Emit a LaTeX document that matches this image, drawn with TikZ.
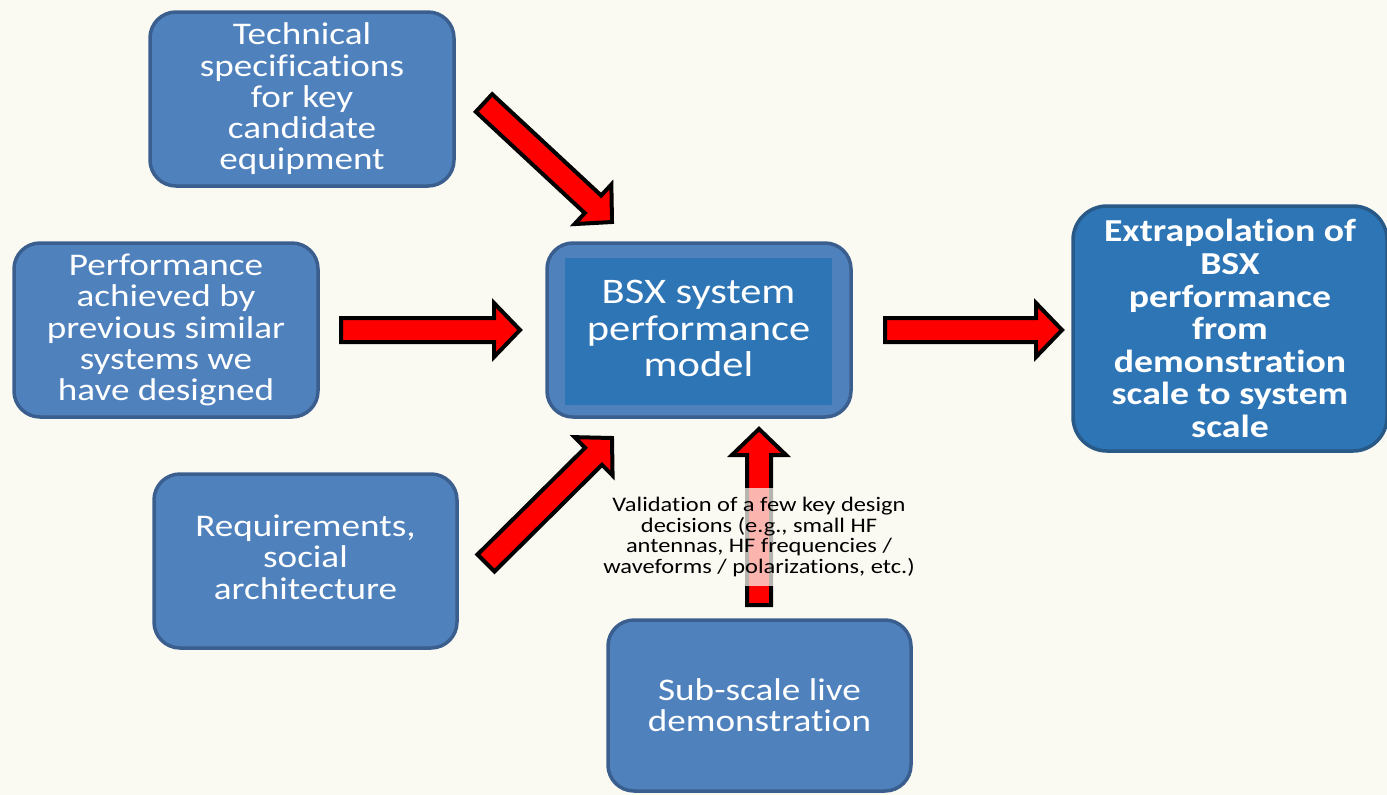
\documentclass[tikz,border=0pt]{standalone}
\usepackage{fontspec}
\setmainfont{Carlito}[FakeStretch=1.18, Ligatures=NoCommon]
\usetikzlibrary{calc}

\definecolor{bgcream}{HTML}{FBFAF2}
\definecolor{boxfill}{HTML}{4F81BD}
\definecolor{boxline}{HTML}{3A5F8E}
\definecolor{modelfill}{HTML}{2E75B6}
\definecolor{extraline}{HTML}{285987}
\definecolor{arrowred}{HTML}{FF0000}

% block arrow dimensions (half shaft width, half head width, head length)
\newcommand{\arrshaft}{12pt}
\newcommand{\arrwing}{27pt}
\newcommand{\arrhead}{26pt}

% fat red arrow from tail coordinate #1 to tip coordinate #2
\newcommand{\blockarrow}[2]{%
  \coordinate (#2-base) at ($(#2)!\arrhead!(#1)$);
  \draw[redblock]
    ($(#1)!\arrshaft!90:(#2)$) --
    ($(#2-base)!\arrshaft!90:(#2)$) --
    ($(#2-base)!\arrwing!90:(#2)$) --
    (#2) --
    ($(#2-base)!\arrwing!-90:(#2)$) --
    ($(#2-base)!\arrshaft!-90:(#2)$) --
    ($(#1)!\arrshaft!-90:(#2)$) -- cycle;
}

\tikzset{
  inbox/.style={draw=boxline, line width=3.5pt, fill=boxfill,
    rounded corners=26pt, text=white, align=center, inner sep=0pt,
    font=\fontsize{31.5}{31.3}\selectfont},
  boxtext/.style={text=white, align=center, inner sep=0pt,
    font=\fontsize{31.5}{31.3}\selectfont},
  modelinner/.style={fill=modelfill, draw=none, inner sep=0pt},
  modeltextstyle/.style={text=white, align=center, inner sep=0pt,
    font=\fontsize{36}{36.5}\selectfont},
  outbox/.style={draw=extraline, line width=3.5pt, fill=modelfill,
    rounded corners=34pt, text=white, align=center, inner sep=0pt,
    font=\bfseries\fontsize{32}{32.6}\selectfont},
  redblock/.style={draw=black, line width=4pt, fill=arrowred, line join=miter},
  notelabel/.style={fill=bgcream, fill opacity=0.72, text opacity=1,
    align=center, inner xsep=3pt, inner ysep=9pt,
    font=\fontsize{20.7}{20.7}\selectfont}
}

\begin{document}
\begin{tikzpicture}[x=1pt, y=-1pt]
  % page and background
  \fill[bgcream] (0,0) rectangle (1387,795);
  \useasboundingbox (0,0) rectangle (1387,795);
  \clip (0,0) rectangle (1387,795);

  % input boxes
  \node[inbox, minimum width=304pt, minimum height=174pt] (tech) at (302,99)
    {Technical\\specifications\\for key\\candidate\\equipment};
  \node[inbox, minimum width=304pt, minimum height=174pt] (perf) at (166,330)
    {Performance\\achieved by\\previous similar\\systems we\\have designed};
  \node[inbox, minimum width=303pt, minimum height=174pt] (req) at (305.5,561) {};
  \node[boxtext] (reqtext) at ($(req.center)+(0,-4)$)
    {Requirements,\\social\\architecture};
  \node[inbox, minimum width=303pt, minimum height=171pt] (demo) at (759.5,705.5)
    {Sub-scale live\\demonstration};

  % central model box
  \node[inbox, minimum width=304pt, minimum height=174pt] (model) at (699,330) {};
  \node[modelinner, minimum width=267pt, minimum height=147pt] (modelcore) at (698.5,331.5) {};
  \node[modeltextstyle] (modeltext) at ($(modelcore.center)+(0,-3)$)
    {BSX system\\performance\\model};

  % output box
  \node[outbox, minimum width=314pt, minimum height=245pt] (extra) at (1230,328.5)
    {Extrapolation of\\BSX\\performance\\from\\demonstration\\scale to system\\scale};

  % arrow end points
  \coordinate (techA) at (484,103);  \coordinate (techB) at (612,222);
  \coordinate (perfA) at (341,330);  \coordinate (perfB) at (520,330);
  \coordinate (reqA)  at (486,563);  \coordinate (reqB)  at (612,438);
  \coordinate (demoA) at (759,605);  \coordinate (demoB) at (759,429);
  \coordinate (outA)  at (885,330);  \coordinate (outB)  at (1062,330);

  \blockarrow{techA}{techB}
  \blockarrow{perfA}{perfB}
  \blockarrow{reqA}{reqB}
  \blockarrow{demoA}{demoB}
  \blockarrow{outA}{outB}

  % note over the validation arrow
  \node[notelabel] (note) at (759,537)
    {Validation of a few key design\\decisions (e.g., small HF\\antennas, HF frequencies /\\waveforms / polarizations, etc.)};
\end{tikzpicture}
\end{document}
